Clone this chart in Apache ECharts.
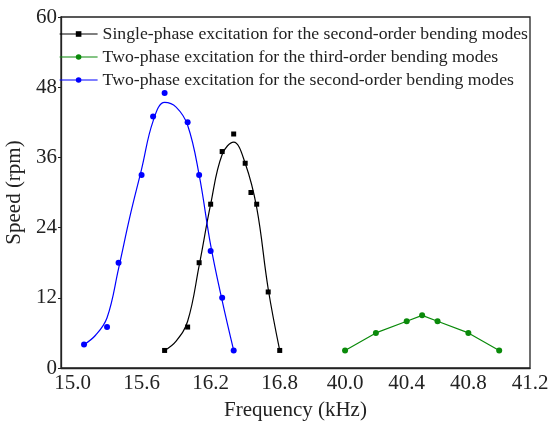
<!DOCTYPE html>
<html>
<head>
<meta charset="utf-8">
<script src="https://cdn.jsdelivr.net/npm/echarts@6/dist/echarts.min.js"></script>
<style>
  html, body { margin: 0; padding: 0; background: #fff; }
  #chart { width: 550px; height: 423px; }
</style>
</head>
<body>
<div id="chart"></div>
<script>
  // tick labels of the broken frequency axis
  const tickFreq = [15.0, 15.6, 16.2, 16.8, 40.0, 40.4, 40.8, 41.2];
  const tickText = ['15.0', '15.6', '16.2', '16.8', '40.0', '40.4', '40.8', '41.2'];
  const speedTicks = [0, 12, 24, 36, 48, 60];

  // single-phase, second-order bending (black): measured points
  const singleFreq = [15.8, 16.0, 16.1, 16.2, 16.3, 16.4, 16.5, 16.55, 16.6, 16.7, 16.8];
  const singleSpeed = [3, 7, 18, 28, 37, 40, 35, 30, 28, 13, 3];
  // fitted curve
  const singleFitFreq = [15.8, 15.9, 16.0, 16.1, 16.2, 16.3, 16.4, 16.5, 16.6, 16.7, 16.8];
  const singleFit = [3, 4.6, 8, 17.5, 28, 36.5, 38.6, 35, 27.4, 13.5, 3];

  // two-phase, third-order bending (green)
  const thirdFreq = [40.0, 40.2, 40.4, 40.5, 40.6, 40.8, 41.0];
  const thirdSpeed = [3, 6, 8, 9, 8, 6, 3];

  // two-phase, second-order bending (blue): measured points
  const twoFreq = [15.1, 15.3, 15.4, 15.6, 15.7, 15.8, 16.0, 16.1, 16.2, 16.3, 16.4];
  const twoSpeed = [4, 7, 18, 33, 43, 47, 42, 33, 20, 12, 3];
  // fitted curve
  const twoFitFreq = [15.1, 15.2, 15.3, 15.4, 15.5, 15.6, 15.7, 15.8, 15.9, 16.0, 16.1, 16.2, 16.3, 16.4];
  const twoFit = [4, 5.6, 8.6, 17, 26, 34, 42.2, 45.4, 44.6, 41.5, 33, 21, 11.5, 3];

  // axis break: 14.9-17.1 takes 54% of the width, 39.8-41.2 the rest
  function toAxis(f) {
    const u = f < 30 ? (f - 14.9) / 2.2 * 54 : 54 + (f - 39.8) / 1.4 * 46;
    return Math.round(u * 1000) / 1000;
  }
  function pairs(xs, ys) {
    return xs.map((x, i) => [toAxis(x), ys[i]]);
  }

  const serif = "'Liberation Serif', 'Times New Roman', serif";
  const tickPos = tickFreq.map(toAxis);

  const names = [
    'Single-phase excitation for the second-order bending modes',
    'Two-phase excitation for the third-order bending modes',
    'Two-phase excitation for the second-order bending modes'
  ];
  const colors = ['#000000', '#0a8a0a', '#0000ff'];

  const option = {
    animation: false,
    backgroundColor: '#fff',
    grid: {
      left: 61,
      right: 20,
      top: 17,
      bottom: 55,
      outerBoundsMode: 'none',
      show: true,
      borderColor: '#222',
      borderWidth: 1.3
    },
    legend: {
      orient: 'vertical',
      left: 59,
      top: 25,
      padding: 0,
      itemGap: 5,
      itemWidth: 38,
      itemHeight: 7,
      textStyle: { fontFamily: serif, fontSize: 17.7, color: '#222', lineHeight: 17.7 },
      data: names.map((n, i) => ({
        name: n,
        lineStyle: { width: 1.2, opacity: 1, color: colors[i] },
        itemStyle: { color: colors[i] }
      }))
    },
    xAxis: {
      type: 'value',
      min: 0,
      max: 100,
      name: 'Frequency (kHz)',
      nameLocation: 'middle',
      nameGap: 32,
      nameTextStyle: { fontFamily: serif, fontSize: 21, color: '#222' },
      axisLine: { lineStyle: { color: '#222', width: 1.3 } },
      axisTick: { show: false },
      splitLine: { show: false },
      axisLabel: {
        customValues: tickPos,
        showMaxLabel: true,
        showMinLabel: true,
        hideOverlap: false,
        margin: 5,
        fontFamily: serif,
        fontSize: 21,
        color: '#222',
        formatter: function (v) {
          let best = 0;
          tickPos.forEach((p, i) => { if (Math.abs(p - v) < Math.abs(tickPos[best] - v)) best = i; });
          return tickText[best];
        }
      }
    },
    yAxis: {
      type: 'value',
      min: 0,
      max: 60,
      interval: 12,
      name: 'Speed (rpm)',
      nameLocation: 'middle',
      nameRotate: 90,
      nameGap: 36,
      nameTextStyle: { fontFamily: serif, fontSize: 21, color: '#222' },
      axisLine: { show: true, lineStyle: { color: '#222', width: 1.3 } },
      axisTick: { show: true, length: 3, lineStyle: { color: '#222' } },
      splitLine: { show: false },
      axisLabel: {
        margin: 4,
        fontFamily: serif,
        fontSize: 21,
        color: '#222',
        formatter: v => speedTicks.includes(v) ? String(v) : ''
      }
    },
    series: [
      {
        name: names[0],
        type: 'line',
        data: pairs(singleFreq, singleSpeed),
        symbol: 'rect',
        symbolSize: 5,
        itemStyle: { color: colors[0] },
        lineStyle: { width: 0, opacity: 0, color: colors[0] },
        z: 5
      },
      {
        type: 'line',
        data: pairs(singleFitFreq, singleFit),
        smooth: 0.4,
        symbol: 'none',
        silent: true,
        lineStyle: { width: 1.2, color: colors[0] },
        z: 3
      },
      {
        name: names[1],
        type: 'line',
        data: pairs(thirdFreq, thirdSpeed),
        symbol: 'circle',
        symbolSize: 6,
        itemStyle: { color: colors[1] },
        lineStyle: { width: 1.2, color: colors[1] },
        z: 5
      },
      {
        name: names[2],
        type: 'line',
        data: pairs(twoFreq, twoSpeed),
        symbol: 'circle',
        symbolSize: 6,
        itemStyle: { color: colors[2] },
        lineStyle: { width: 0, opacity: 0, color: colors[2] },
        z: 5
      },
      {
        type: 'line',
        data: pairs(twoFitFreq, twoFit),
        smooth: 0.4,
        symbol: 'none',
        silent: true,
        lineStyle: { width: 1.2, color: colors[2] },
        z: 3
      }
    ]
  };

  const myChart = echarts.init(document.getElementById('chart'), null, { renderer: 'canvas' });
  myChart.setOption(option);
</script>
</body>
</html>
